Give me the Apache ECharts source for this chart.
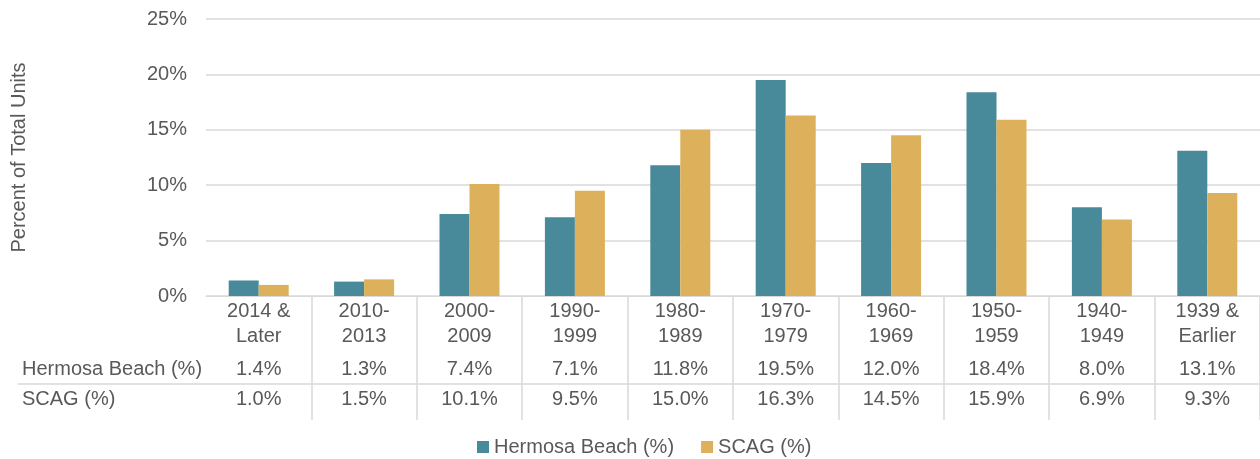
<!DOCTYPE html>
<html><head><meta charset="utf-8">
<script src="https://cdn.jsdelivr.net/npm/echarts@6/dist/echarts.min.js"></script>
<style>html,body{margin:0;padding:0;background:#fff}#c{width:1260px;height:459px}</style>
</head><body><div id="c"></div>
<script>
const categories = ['2014 &\nLater','2010-\n2013','2000-\n2009','1990-\n1999','1980-\n1989','1970-\n1979','1960-\n1969','1950-\n1959','1940-\n1949','1939 &\nEarlier'];
const hermosa = [1.4,1.3,7.4,7.1,11.8,19.5,12.0,18.4,8.0,13.1];
const scag = [1.0,1.5,10.1,9.5,15.0,16.3,14.5,15.9,6.9,9.3];
const seriesNames = ['Hermosa Beach (%)','SCAG (%)'];
const yTicks = {min:0, max:25, interval:5};

const FONT = 'Liberation Sans';
const FS = 20;
const TXT = '#595959';
const LINE = '#d9d9d9';
const fmt = v => v.toFixed(1) + '%';

const chart = echarts.init(document.getElementById('c'), null, {renderer:'canvas'});
chart.setOption({
  animation:false,
  textStyle:{fontFamily:FONT},
  grid:{left:206, right:-2, top:19, bottom:163},
  legend:{
    data:seriesNames, bottom:2, left:477, padding:0, itemWidth:12, itemHeight:12, itemGap:27, icon:'rect',
    textStyle:{fontFamily:FONT, fontSize:FS, color:TXT}
  },
  xAxis:[
    {type:'category', data:categories,
     axisLine:{lineStyle:{color:LINE, width:1}},
     axisTick:{show:true, length:124, lineStyle:{color:LINE, width:1.5}, interval:(i)=>i>0},
     axisLabel:{fontFamily:FONT, fontSize:FS, color:TXT, lineHeight:25, margin:3, interval:0}},
    {type:'category', data:hermosa.map(fmt), position:'bottom', offset:63,
     axisLine:{show:false}, axisTick:{show:false},
     axisLabel:{fontFamily:FONT, fontSize:FS, color:TXT, margin:0, lineHeight:20, interval:0}},
    {type:'category', data:scag.map(fmt), position:'bottom', offset:93,
     axisLine:{show:false}, axisTick:{show:false},
     axisLabel:{fontFamily:FONT, fontSize:FS, color:TXT, margin:0, lineHeight:20, interval:0}}
  ],
  yAxis:{type:'value', min:yTicks.min, max:yTicks.max, interval:yTicks.interval,
    name:'Percent of Total Units', nameLocation:'middle', nameGap:177, nameRotate:90,
    nameTextStyle:{fontFamily:FONT, fontSize:FS, color:TXT},
    axisLine:{show:false}, axisTick:{show:false},
    axisLabel:{formatter:'{value}%', fontFamily:FONT, fontSize:FS, color:TXT, margin:19},
    splitLine:{lineStyle:{color:LINE, width:1.5}}
  },
  graphic:[
    {type:'line', shape:{x1:18, y1:384, x2:1260, y2:384}, style:{stroke:LINE, lineWidth:1.5}, silent:true},
    {type:'text', left:22, top:359, style:{text:seriesNames[0], font:FS+'px "'+FONT+'"', fill:TXT}},
    {type:'text', left:22, top:389, style:{text:seriesNames[1], font:FS+'px "'+FONT+'"', fill:TXT}}
  ],
  series:[
    {name:seriesNames[0], type:'bar', data:hermosa, barWidth:30, barGap:'0%', itemStyle:{color:'#488A99'}},
    {name:seriesNames[1], type:'bar', data:scag, barWidth:30, barGap:'0%', itemStyle:{color:'#DDB15B'}}
  ]
});
</script></body></html>
